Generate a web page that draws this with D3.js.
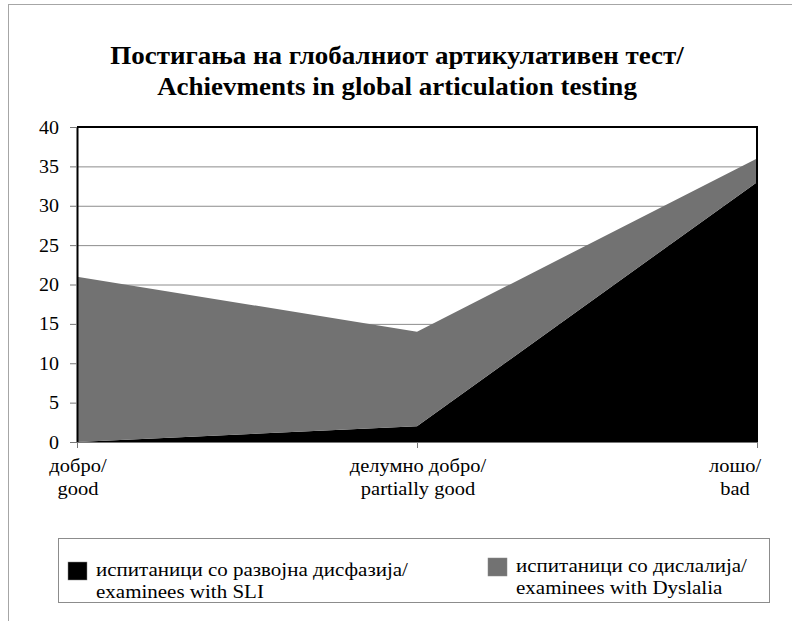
<!DOCTYPE html>
<html>
<head>
<meta charset="utf-8">
<script src="https://cdn.jsdelivr.net/npm/d3@7"></script>
<style>
  html, body { margin: 0; padding: 0; background: #fff; }
  svg { display: block; }
</style>
</head>
<body>
<svg id="chart" width="792" height="621"></svg>
<script>
// ---- data ----
const categories = ["добро/|good", "делумно добро/|partially good", "лошо/|bad"];
const seriesNames = ["испитаници со развојна дисфазија/|examinees with SLI",
                     "испитаници со дислалија/|examinees with Dyslalia"];
const sliValues = [0, 2, 33];
const dyslaliaValues = [21, 12, 3];
const yTicks = [0, 5, 10, 15, 20, 25, 30, 35, 40];
const titleLines = ["Постигања на глобалниот артикулативен тест/",
                    "Achievments in global articulation testing"];
const colors = ["#000000", "#727272"];

const FONT = "'Liberation Serif', 'DejaVu Serif', 'Times New Roman', serif";
const SY = 0.9; // vertical squash of the original typeface

// helper: multi-line text, squashed vertically
function addText(parent, x, y, lines, size, anchor, lineGap, weight) {
  const t = parent.append("text")
    .attr("transform", `translate(${x},${y}) scale(1,${SY})`)
    .attr("font-family", FONT)
    .attr("font-size", size)
    .attr("font-weight", weight || "normal")
    .attr("text-anchor", anchor)
    .attr("fill", "#000");
  t.selectAll("tspan").data(lines).join("tspan")
    .attr("x", 0)
    .attr("y", (d, i) => i * lineGap / SY)
    .text(d => d);
  return t;
}

// ---- layout ----
const svg = d3.select("#chart").attr("font-family", FONT);
const plot = { left: 77, top: 127, right: 757, bottom: 442 };

// outer chart frame
svg.append("rect").attr("x", 8.5).attr("y", 4.5).attr("width", 900).attr("height", 900)
  .attr("fill", "none").attr("stroke", "#a6a6a6").attr("stroke-width", 1);

// title
addText(svg, 397, 64, titleLines, 27, "middle", 31, "bold");

const x = d3.scalePoint().domain(categories).range([plot.left, plot.right]);
const y = d3.scaleLinear().domain([0, 40]).range([plot.bottom, plot.top]);

// gridlines
svg.append("g").selectAll("line").data(yTicks.filter(t => t > 0 && t < 40)).join("line")
  .attr("x1", plot.left).attr("x2", plot.right)
  .attr("y1", d => y(d) + 0.5).attr("y2", d => y(d) + 0.5)
  .attr("stroke", "#8c8c8c").attr("stroke-width", 1);

// stacked areas
const rows = categories.map((c, i) => ({ cat: c, sli: sliValues[i], dys: dyslaliaValues[i] }));
const stacked = d3.stack().keys(["sli", "dys"])(rows);
const area = d3.area()
  .x(d => x(d.data.cat))
  .y0(d => y(d[0]))
  .y1(d => y(d[1]));
svg.append("g").selectAll("path").data(stacked).join("path")
  .attr("d", area)
  .attr("fill", (d, i) => colors[i]);

// plot border (top, right)
svg.append("path")
  .attr("d", `M${plot.left},${plot.top}H${plot.right}V${plot.bottom}`)
  .attr("fill", "none").attr("stroke", "#000").attr("stroke-width", 2);

// y axis (ticks via d3 axis, labels squashed like the original)
const yAxis = svg.append("g").attr("transform", `translate(${plot.left},0)`)
  .call(d3.axisLeft(y).tickValues(yTicks).tickSize(7).tickSizeOuter(0).tickFormat(""));
yAxis.select(".domain").attr("stroke", "#000").attr("stroke-width", 2);
yAxis.selectAll(".tick line").attr("stroke", "#777");
const yLab = svg.append("g");
yTicks.forEach(t => addText(yLab, plot.left - 18, y(t) + 6.5, [String(t)], 20, "end", 0));

// x axis
const xAxis = svg.append("g").attr("transform", `translate(0,${plot.bottom})`)
  .call(d3.axisBottom(x).tickSize(6).tickSizeOuter(0).tickFormat(""));
xAxis.select(".domain").attr("stroke", "#777").attr("stroke-width", 1);
xAxis.selectAll(".tick line").attr("stroke", "#777");
const xLab = svg.append("g");
categories.forEach((c, i) => {
  const cx = i === categories.length - 1 ? x(c) - 22 : x(c) + 1;
  addText(xLab, cx, 472, c.split("|"), 20.5, "middle", 23);
});

// legend
svg.append("rect").attr("x", 58.5).attr("y", 538.5).attr("width", 711).attr("height", 64)
  .attr("fill", "#fff").attr("stroke", "#8c8c8c").attr("stroke-width", 1);
const legendX = [68, 488];
const legendDy = [0, -4];
seriesNames.forEach((s, i) => {
  const g = svg.append("g").attr("transform", `translate(${legendX[i]},${legendDy[i]})`);
  g.append("rect").attr("x", 0).attr("y", 562).attr("width", 19).attr("height", 18)
    .attr("fill", colors[i]).attr("stroke", "#888").attr("stroke-width", 0.5);
  addText(g, 28, 576, s.split("|"), 21, "start", 22);
});
</script>
</body>
</html>
